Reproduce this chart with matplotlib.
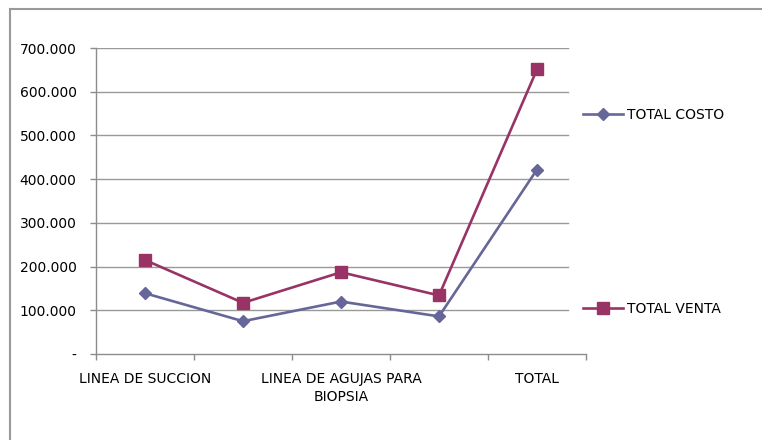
import matplotlib
matplotlib.use('Agg')
import matplotlib.pyplot as plt
from matplotlib.lines import Line2D
import numpy as np

# datos
categorias = ['LINEA DE SUCCION', '', 'LINEA DE AGUJAS PARA\nBIOPSIA', '', 'TOTAL']
total_costo = [139000, 75000, 120000, 86000, 422000]
total_venta = [215000, 117000, 187000, 134000, 651000]
yticks = [0, 100000, 200000, 300000, 400000, 500000, 600000, 700000]
ytick_labels = ['-', '100.000', '200.000', '300.000', '400.000', '500.000', '600.000', '700.000']

c_costo = '#666699'
c_venta = '#993366'
gris = '#8c8c8c'

plt.rcParams['font.family'] = ['DejaVu Sans']

fig = plt.figure(figsize=(7.62, 4.40), dpi=100)
ax = fig.add_axes([96/762, 1 - 354/440, 490/762, 306/440])

x = np.arange(len(categorias))

# rejilla horizontal (termina un poco antes del final del eje)
for v in yticks[1:]:
    ax.axhline(v, xmin=0, xmax=(568 - 96) / 490, color='#999999', lw=1, zorder=0)

l1, = ax.plot(x, total_costo, color=c_costo, lw=1.9, marker='D', ms=6.5,
              label='TOTAL COSTO', zorder=3)
l2, = ax.plot(x, total_venta, color=c_venta, lw=1.9, marker='s', ms=8,
              label='TOTAL VENTA', zorder=3)

ax.set_xlim(-0.5, len(categorias) - 0.5)
ax.set_ylim(0, 700000)

ax.set_yticks(yticks)
ax.set_yticklabels(ytick_labels, fontsize=10)
ax.tick_params(axis='y', direction='out', length=4, width=1, color=gris, pad=10)

ax.set_xticks(np.arange(len(categorias) + 1) - 0.5)
ax.set_xticklabels([])
ax.tick_params(axis='x', which='major', direction='out', length=4, width=1, color=gris)
ax.set_xticks(x, minor=True)
ax.set_xticklabels(categorias, minor=True, fontsize=10)
ax.tick_params(axis='x', which='minor', length=0, pad=13)
for t in ax.get_xticklabels(minor=True):
    t.set_linespacing(1.4)

for s in ['top', 'right']:
    ax.spines[s].set_visible(False)
for s in ['left', 'bottom']:
    ax.spines[s].set_color(gris)
    ax.spines[s].set_linewidth(1)

# leyenda con entradas separadas
fig.legend(handles=[l1], loc='center left', bbox_to_anchor=(583/762, 1 - 115/440),
           frameon=False, fontsize=10, handlelength=2.9, handletextpad=0.3,
           borderpad=0, borderaxespad=0)
fig.legend(handles=[l2], loc='center left', bbox_to_anchor=(583/762, 1 - 309/440),
           frameon=False, fontsize=10, handlelength=2.9, handletextpad=0.3,
           borderpad=0, borderaxespad=0)

# borde del area del grafico (solo izquierda y arriba visibles)
fig.add_artist(Line2D([9.5/762, 9.5/762], [0, 1 - 9.5/440], color='#999999', lw=1.5))
fig.add_artist(Line2D([9.5/762, 1], [1 - 9.5/440, 1 - 9.5/440], color='#999999', lw=1.5))

fig.savefig('out.png', dpi=100)
